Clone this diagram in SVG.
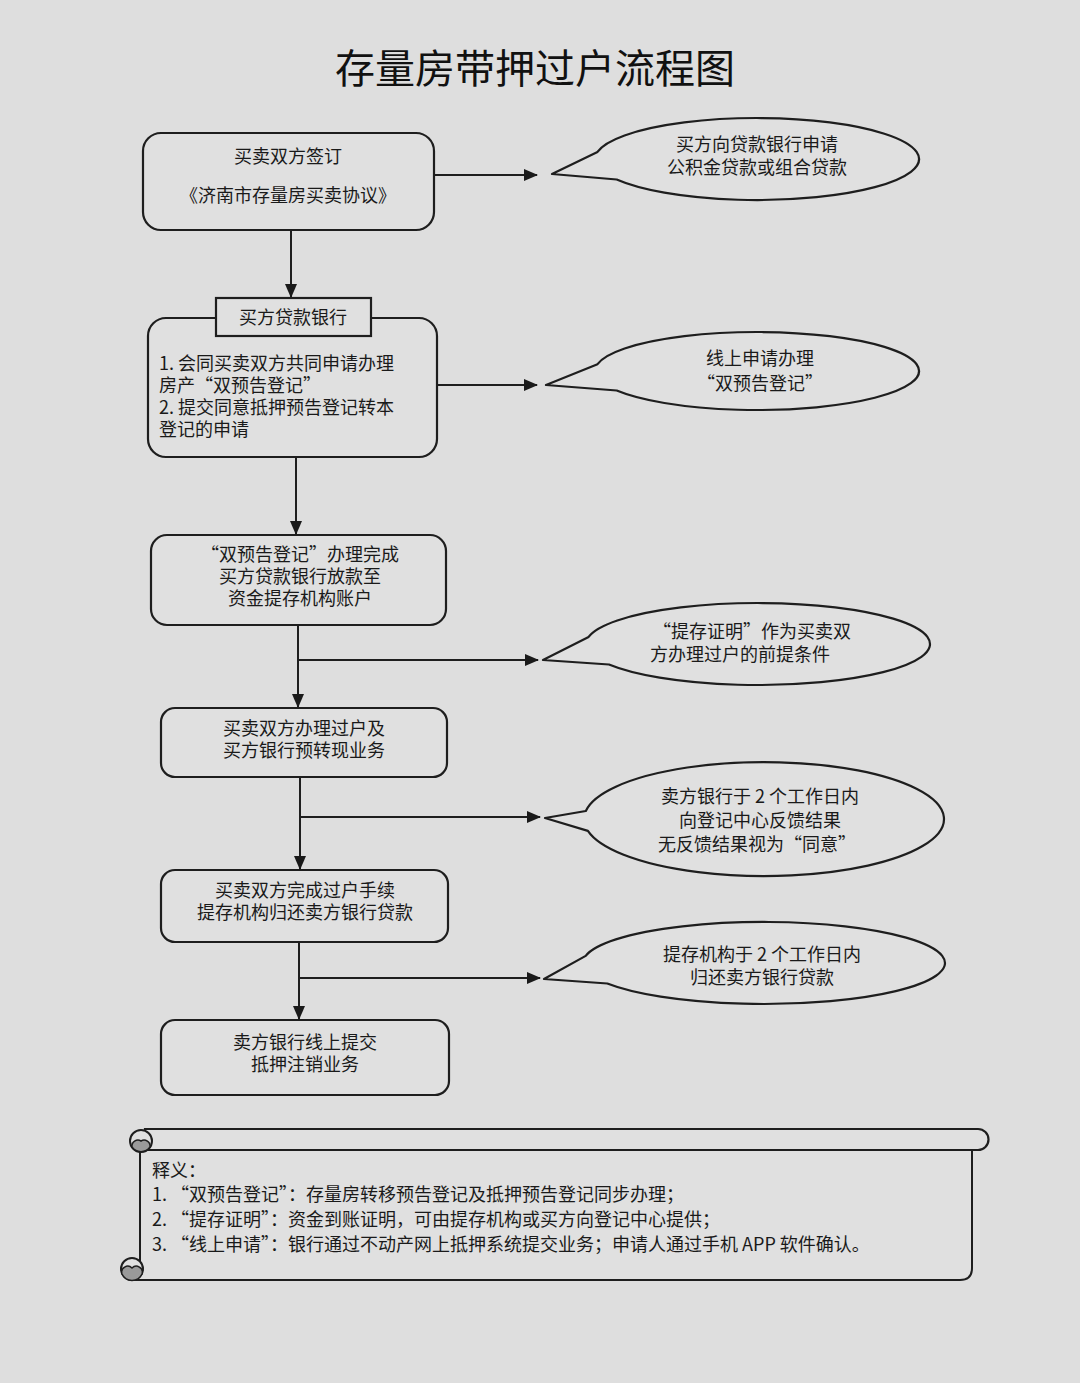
<svg xmlns="http://www.w3.org/2000/svg" width="1080" height="1383" viewBox="0 0 1080 1383">
<defs>
<marker id="ah" markerUnits="userSpaceOnUse" markerWidth="14" markerHeight="12" refX="13" refY="6" orient="auto">
<path d="M0,0 L14,6 L0,12 Z" fill="#1a1a1a"/>
</marker>
<style>
.bx{fill:#e0e0e0;stroke:#1e1e1e;stroke-width:2.2}
.co{fill:#e0e0e0;stroke:#1e1e1e;stroke-width:2.2;stroke-linejoin:round}
.ln{fill:none;stroke:#1e1e1e;stroke-width:2}
.t{font-family:"Noto Sans CJK SC","Noto Sans",sans-serif;font-size:18px;fill:#1a1a1a}
.c{text-anchor:middle}
.ttl{font-family:"Noto Sans CJK SC","Noto Sans",sans-serif;font-size:40px;font-weight:400;fill:#111;text-anchor:middle}
</style>
</defs>
<rect width="1080" height="1383" fill="#dedede"/>
<text class="ttl" x="535" y="83">存量房带押过户流程图</text>

<g id="connectors">
<path class="ln" d="M434,175 H537" marker-end="url(#ah)"/>
<path class="ln" d="M291,230 V297" marker-end="url(#ah)"/>
<path class="ln" d="M437,385 H537" marker-end="url(#ah)"/>
<path class="ln" d="M296,457 V534" marker-end="url(#ah)"/>
<path class="ln" d="M298,625 V707" marker-end="url(#ah)"/>
<path class="ln" d="M298,660 H538" marker-end="url(#ah)"/>
<path class="ln" d="M300,777 V869" marker-end="url(#ah)"/>
<path class="ln" d="M300,817 H540" marker-end="url(#ah)"/>
<path class="ln" d="M299,942 V1019" marker-end="url(#ah)"/>
<path class="ln" d="M299,978 H540" marker-end="url(#ah)"/>
</g>

<g id="node1">
<rect class="bx" x="143" y="133" width="291" height="97" rx="18"/>
<text class="t c" x="288" y="163">买卖双方签订</text>
<text class="t c" x="288" y="202">《济南市存量房买卖协议》</text>
</g>

<g id="callout1">
<path class="co" d="M597.5,151.9 L552,174 L616.7,179.5 A162,41 0 1 0 597.5,151.9 Z"/>
<text class="t c" x="757" y="151">买方向贷款银行申请</text>
<text class="t c" x="757" y="174">公积金贷款或组合贷款</text>
</g>

<g id="node2">
<rect class="bx" x="148" y="318" width="289" height="139" rx="18"/>
<rect class="bx" x="216" y="298" width="155" height="38"/>
<text class="t c" x="293" y="324">买方贷款银行</text>
<text class="t" x="159" y="370">1. 会同买卖双方共同申请办理</text>
<text class="t" x="159" y="392">房产“双预告登记”</text>
<text class="t" x="159" y="414">2. 提交同意抵押预告登记转本</text>
<text class="t" x="159" y="436">登记的申请</text>
</g>

<g id="callout2">
<path class="co" d="M597.5,364.2 L546,385 L616.7,390.5 A162,39 0 1 0 597.5,364.2 Z"/>
<text class="t c" x="760" y="365">线上申请办理</text>
<text class="t c" x="760" y="390">“双预告登记”</text>
</g>

<g id="node3">
<rect class="bx" x="151" y="535" width="295" height="90" rx="16"/>
<text class="t c" x="300" y="561">“双预告登记”办理完成</text>
<text class="t c" x="300" y="583">买方贷款银行放款至</text>
<text class="t c" x="300" y="605">资金提存机构账户</text>
</g>

<g id="callout3">
<path class="co" d="M588.6,636.9 L543,660 L609,664.5 A172,41 0 1 0 588.6,636.9 Z"/>
<text class="t c" x="752" y="638">“提存证明”作为买卖双</text>
<text class="t c" x="740" y="661">方办理过户的前提条件</text>
</g>

<g id="node4">
<rect class="bx" x="161" y="708" width="286" height="69" rx="14"/>
<text class="t c" x="304" y="735">买卖双方办理过户及</text>
<text class="t c" x="304" y="757">买方银行预转现业务</text>
</g>

<g id="callout4">
<path class="co" d="M585.8,811 L545,818 L587.9,830.9 A180,57 0 1 0 585.8,811 Z"/>
<text class="t c" x="760" y="803">卖方银行于 2 个工作日内</text>
<text class="t c" x="760" y="827">向登记中心反馈结果</text>
<text class="t c" x="757" y="851">无反馈结果视为“同意”</text>
</g>

<g id="node5">
<rect class="bx" x="161" y="870" width="287" height="72" rx="14"/>
<text class="t c" x="305" y="897">买卖双方完成过户手续</text>
<text class="t c" x="305" y="919">提存机构归还卖方银行贷款</text>
</g>

<g id="callout5">
<path class="co" d="M585.7,955.9 L544,979 L607.3,983.5 A181,41 0 1 0 585.7,955.9 Z"/>
<text class="t c" x="762" y="961">提存机构于 2 个工作日内</text>
<text class="t c" x="762" y="984">归还卖方银行贷款</text>
</g>

<g id="node6">
<rect class="bx" x="161" y="1020" width="288" height="75" rx="14"/>
<text class="t c" x="305" y="1049">卖方银行线上提交</text>
<text class="t c" x="305" y="1071">抵押注销业务</text>
</g>

<g id="notes">
<path d="M140,1150 V1280 H960 Q972,1280 972,1268 V1150 Z" fill="#e0e0e0"/>
<path class="ln" d="M140,1150 V1262"/>
<path class="ln" d="M972,1150 V1268 Q972,1280 960,1280 H132"/>
<path class="bx" d="M145,1129 H978 A10.5,10.5 0 0 1 978,1150 H145 Z"/>
<circle cx="141" cy="1141" r="11" fill="#e0e0e0" stroke="#1e1e1e" stroke-width="2"/>
<path d="M132,1147 A11,11 0 0 0 150,1147 A6,6 0 0 0 141,1141 A6,6 0 0 0 132,1147 Z" fill="#9a9a9a" stroke="#1e1e1e" stroke-width="1.5"/>
<circle cx="132" cy="1269" r="11" fill="#e0e0e0" stroke="#1e1e1e" stroke-width="2"/>
<path d="M122,1274 A11,11 0 0 0 142,1274 A6,6 0 0 0 132,1268 A6,6 0 0 0 122,1274 Z" fill="#9a9a9a" stroke="#1e1e1e" stroke-width="1.5"/>
<text class="t" x="152" y="1177">释义：</text>
<text class="t" x="152" y="1201">1. “双预告登记”：存量房转移预告登记及抵押预告登记同步办理；</text>
<text class="t" x="152" y="1226">2. “提存证明”：资金到账证明，可由提存机构或买方向登记中心提供；</text>
<text class="t" x="152" y="1251">3. “线上申请”：银行通过不动产网上抵押系统提交业务；申请人通过手机 APP 软件确认。</text>
</g>
</svg>
